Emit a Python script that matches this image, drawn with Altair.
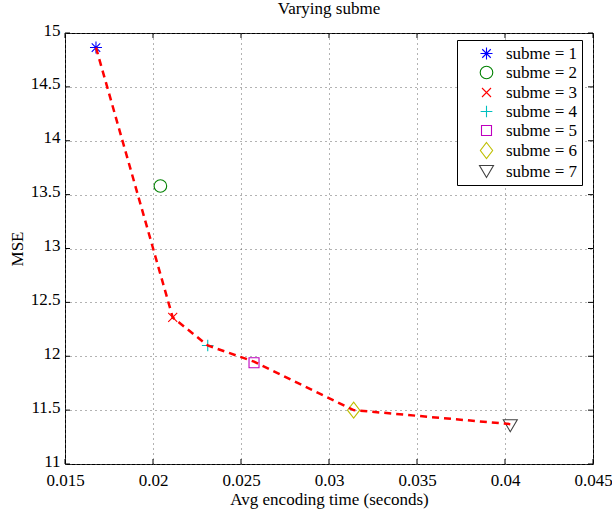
import altair as alt
import pandas as pd

# ---- data ----
labels = ["subme = 1", "subme = 2", "subme = 3", "subme = 4",
          "subme = 5", "subme = 6", "subme = 7"]
enc_time = [0.01676, 0.02042, 0.02112, 0.02311, 0.02574, 0.0314, 0.0403]
mse_vals = [14.865, 13.58, 12.36, 12.10, 11.94, 11.50, 11.355]

line_time = [0.01676, 0.02112, 0.02311, 0.02574, 0.0314, 0.0403]
line_mse = [14.865, 12.36, 12.10, 11.95, 11.50, 11.37]

x_ticks = [0.015, 0.02, 0.025, 0.03, 0.035, 0.04, 0.045]
y_ticks = [11, 11.5, 12, 12.5, 13, 13.5, 14, 14.5, 15]

colors = ["#0000ff", "#008000", "#ff0000", "#00bfbf", "#bf00bf", "#bfbf00", "#404040"]
shapes = [
    "M-1.2,0L1.2,0M0,-1.2L0,1.2M-0.85,-0.85L0.85,0.85M-0.85,0.85L0.85,-0.85",
    "M-1.26,0A1.26,1.26,0,1,0,1.26,0A1.26,1.26,0,1,0,-1.26,0Z",
    "M-0.9,-0.9L0.9,0.9M-0.9,0.9L0.9,-0.9",
    "M-1.17,0L1.17,0M0,-1.17L0,1.17",
    "M-1,-1L1,-1L1,1L-1,1Z",
    "M0,-1.6L1.23,0L0,1.6L-1.23,0Z",
    "M-1.4,-1.2L1.4,-1.2L0,1.2Z",
]

FONT = "Liberation Serif"
FS = 17
W, H = 528, 431

pts = pd.DataFrame({"t": enc_time, "mse": mse_vals, "label": labels})
ln = pd.DataFrame({"t": line_time, "mse": line_mse})
xt = pd.DataFrame({"v": x_ticks})
yt = pd.DataFrame({"v": y_ticks})


def xs():
    return alt.Scale(domain=[0.015, 0.045], nice=False, zero=False)


def ys():
    return alt.Scale(domain=[11, 15], nice=False, zero=False)


legend_kw = dict(
    title=None, orient="none", legendX=392, legendY=7,
    strokeColor="black", fillColor="white", padding=5,
    symbolSize=100, symbolStrokeWidth=1.1, symbolOffset=16, labelOffset=11,
    labelFont=FONT, labelFontSize=FS, labelColor="black", rowPadding=1,
    symbolFillColor="transparent",
)

points = alt.Chart(pts).mark_point(filled=False, strokeWidth=1.1, size=100, opacity=1).encode(
    x=alt.X("t:Q", scale=xs(), axis=alt.Axis(
        values=x_ticks, format="~g", title="Avg encoding time (seconds)",
        grid=True, ticks=False, tickSize=0, domain=False, labelPadding=8,
        labelFlush=False, labelOverlap=False,
        titleX=W / 2, titleY=35, titleBaseline="middle", titleAlign="center")),
    y=alt.Y("mse:Q", scale=ys(), axis=alt.Axis(
        values=y_ticks, format="~g", title="MSE",
        grid=True, ticks=False, tickSize=0, domain=False, labelPadding=5,
        labelOffset=-3, labelFlush=False, labelOverlap=False,
        titleX=-48, titleY=H / 2, titleBaseline="middle", titleAlign="center", titleAngle=-90)),
    color=alt.Color("label:N", scale=alt.Scale(domain=labels, range=colors), legend=alt.Legend(**legend_kw)),
    shape=alt.Shape("label:N", scale=alt.Scale(domain=labels, range=shapes), legend=alt.Legend(**legend_kw)),
)

line = alt.Chart(ln).mark_line(color="#ff0000", strokeWidth=2.5, strokeDash=[7, 5]).encode(
    x=alt.X("t:Q", scale=xs()),
    y=alt.Y("mse:Q", scale=ys()),
)

tick_bottom = alt.Chart(xt).mark_rule(color="black", strokeWidth=1).encode(
    x=alt.X("v:Q", scale=xs()), y=alt.value(H), y2=alt.value(H - 5))
tick_top = alt.Chart(xt).mark_rule(color="black", strokeWidth=1).encode(
    x=alt.X("v:Q", scale=xs()), y=alt.value(0), y2=alt.value(5))
tick_left = alt.Chart(yt).mark_rule(color="black", strokeWidth=1).encode(
    y=alt.Y("v:Q", scale=ys()), x=alt.value(0), x2=alt.value(5))
tick_right = alt.Chart(yt).mark_rule(color="black", strokeWidth=1).encode(
    y=alt.Y("v:Q", scale=ys()), x=alt.value(W), x2=alt.value(W - 5))

chart = alt.layer(tick_bottom, tick_top, tick_left, tick_right, points, line).properties(
    width=W, height=H,
    title=alt.TitleParams("Varying subme", font=FONT, fontSize=FS, fontWeight="normal",
                          color="black", anchor="middle", offset=3),
    autosize=alt.AutoSizeParams(type="none"),
    padding={"left": 65, "top": 33, "right": 19, "bottom": 47},
    background="white",
).configure_view(stroke="black", strokeWidth=1).configure_axis(
    labelFont=FONT, labelFontSize=FS, labelColor="black",
    titleFont=FONT, titleFontSize=FS, titleFontWeight="normal", titleColor="black",
    gridColor="#666666", gridDash=[1, 4], gridWidth=1, gridOpacity=1,
)

chart.save("out.html", embed_options={"renderer": "svg", "actions": False})
